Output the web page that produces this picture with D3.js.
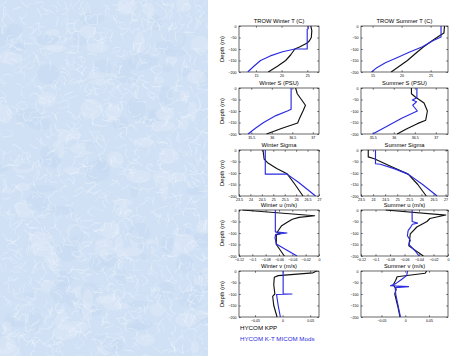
<!DOCTYPE html>
<html><head><meta charset="utf-8">
<script src="https://cdn.jsdelivr.net/npm/d3@7"></script>
<style>html,body{margin:0;padding:0;background:#fff;} svg{display:block;font-family:"Liberation Sans",Arial,sans-serif;}</style>
</head><body>
<script>
// ---------- data ----------
const depthTicks = [0, -50, -100, -150, -200];
const panelTitles = ["TROW Winter T (C)", "TROW Summer T (C)", "Winter S (PSU)", "Summer S (PSU)",
  "Winter Sigma", "Summer Sigma", "Winter u (m/s)", "Summer u (m/s)", "Winter v (m/s)", "Summer v (m/s)"];
const seriesNames = ["HYCOM KPP", "HYCOM K-T MICOM Mods"];

const tTicks = [15, 20, 25];
const sTicks = [35.5, 36, 36.5, 37];
const sigTicks = [23.5, 24, 24.5, 25, 25.5, 26, 26.5, 27];
const uTicks = [-0.12, -0.1, -0.08, -0.06, -0.04, -0.02, 0];
const vTicks = [-0.05, 0, 0.05];

// [value, depth]
const winterT_kpp = [[25.7,0],[25.9,-20],[25.8,-50],[25.4,-65],[24.9,-75],[23.6,-90],[22.6,-100],[21.8,-125],[20.8,-150],[19.2,-175],[17.4,-200]];
const winterT_kt  = [[25.2,0],[25.2,-12],[25.0,-14],[25.0,-100],[22.6,-100],[20.2,-112],[17.8,-130],[15.9,-150],[14.6,-175],[13.4,-200]];
const summerT_kpp = [[27.4,0],[27.3,-30],[26.4,-45],[25.2,-65],[23.8,-90],[22.6,-115],[21.0,-150],[19.6,-175],[18.2,-200]];
const summerT_kt  = [[26.8,0],[26.8,-48],[25.3,-65],[23.6,-90],[21.2,-115],[19.0,-140],[17.2,-160],[15.8,-180],[14.8,-200]];
const winterS_kpp = [[36.58,0],[36.62,-25],[36.72,-50],[36.82,-75],[36.76,-100],[36.68,-130],[36.63,-152],[36.25,-175],[35.87,-200]];
const winterS_kt  = [[36.47,0],[36.47,-92],[36.38,-100],[36.1,-120],[35.8,-150],[35.6,-175],[35.42,-200]];
const summerS_kpp = [[36.42,0],[36.42,-25],[36.52,-40],[36.72,-65],[36.8,-100],[36.76,-140],[36.56,-155],[36.3,-178],[36.08,-200]];
const summerS_kt  = [[36.55,0],[36.55,-42],[36.44,-52],[36.54,-60],[36.45,-75],[36.56,-100],[36.2,-130],[35.85,-165],[35.5,-200]];
const winterSig_kpp = [[24.55,0],[24.6,-40],[24.75,-55],[25.15,-80],[25.6,-103],[25.95,-150],[26.3,-200]];
const winterSig_kt  = [[24.65,0],[24.65,-105],[25.6,-105],[26.1,-140],[26.85,-200]];
const summerSig_kpp = [[23.8,0],[23.8,-30],[24.05,-38],[24.7,-70],[25.45,-105],[25.85,-150],[26.2,-200]];
const summerSig_kt  = [[24.1,0],[24.1,-60],[24.3,-62],[24.9,-82],[25.45,-105],[26.05,-150],[26.65,-200]];
const winterU_kpp = [[-0.115,0],[-0.0065,-25],[-0.03,-32],[-0.04,-40],[-0.047,-52],[-0.056,-68],[-0.06,-85],[-0.063,-98],[-0.058,-102],[-0.064,-108],[-0.064,-150],[-0.052,-200]];
const winterU_kt  = [[-0.0655,0],[-0.0655,-95],[-0.048,-100],[-0.065,-106],[-0.066,-120],[-0.064,-148],[-0.048,-175],[-0.033,-200]];
const summerU_kpp = [[-0.086,0],[-0.003,-22],[-0.025,-37],[-0.029,-50],[-0.043,-74],[-0.052,-104],[-0.054,-156],[-0.034,-200]];
const summerU_kt  = [[-0.0495,0],[-0.0495,-50],[-0.042,-57],[-0.049,-62],[-0.051,-72],[-0.055,-90],[-0.056,-112],[-0.052,-132],[-0.054,-150],[-0.046,-175],[-0.04,-200]];
const winterV_kpp = [[0.062,0],[0.055,-8],[-0.008,-20],[-0.015,-27],[-0.016,-60],[-0.014,-100],[-0.018,-110],[-0.016,-150],[-0.01,-200]];
const winterV_kt  = [[0.001,0],[0.001,-100],[0.017,-100],[-0.011,-102],[-0.008,-150],[-0.004,-200]];
const summerV_kpp = [[0.045,0],[0.042,-10],[-0.017,-25],[-0.02,-40],[-0.025,-60],[-0.019,-80],[-0.022,-100],[-0.016,-150],[-0.011,-200]];
const summerV_kt  = [[0.005,0],[0.003,-20],[-0.01,-40],[-0.02,-55],[-0.031,-64],[0.007,-68],[-0.021,-72],[-0.02,-100],[-0.015,-150],[-0.01,-200]];

// ---------- layout ----------
const W = 475, H = 356;
const colX = [[239, 319], [361, 448]];
const rowTop = [26, 88, 150, 210, 271];
const panelH = 46;
const blackC = "#111", blueC = "#2a2ae0";

const panels = [
  {title:panelTitles[0], dom:[11.7,27.3], ticks:tTicks, fmt:d3.format("d"), a:winterT_kpp, b:winterT_kt},
  {title:panelTitles[1], dom:[13,28], ticks:tTicks, fmt:d3.format("d"), a:summerT_kpp, b:summerT_kt},
  {title:panelTitles[2], dom:[35.2,37.15], ticks:sTicks, fmt:d3.format(""), a:winterS_kpp, b:winterS_kt},
  {title:panelTitles[3], dom:[35.22,37.29], ticks:sTicks, fmt:d3.format(""), a:summerS_kpp, b:summerS_kt},
  {title:panelTitles[4], dom:[23.5,27], ticks:sigTicks, fmt:d3.format(""), a:winterSig_kpp, b:winterSig_kt},
  {title:panelTitles[5], dom:[23.5,27.1], ticks:sigTicks, fmt:d3.format(""), a:summerSig_kpp, b:summerSig_kt},
  {title:panelTitles[6], dom:[-0.12,0], ticks:uTicks, fmt:d3.format(""), a:winterU_kpp, b:winterU_kt},
  {title:panelTitles[7], dom:[-0.12,0], ticks:uTicks, fmt:d3.format(""), a:summerU_kpp, b:summerU_kt},
  {title:panelTitles[8], dom:[-0.079,0.066], ticks:vTicks, fmt:d3.format(""), a:winterV_kpp, b:winterV_kt},
  {title:panelTitles[9], dom:[-0.093,0.09], ticks:vTicks, fmt:d3.format(""), a:summerV_kpp, b:summerV_kt}
];

const svg = d3.select("body").append("svg").attr("width", W).attr("height", H);
svg.append("rect").attr("width", W).attr("height", H).attr("fill", "#fff");

// ---------- decorative texture on the left ----------
const tex = svg.append("g");
tex.append("rect").attr("x",0).attr("y",0).attr("width",208).attr("height",H).attr("fill","#d0e1f5");
let seed = 12345;
function rnd(){ seed = (seed * 1103515245 + 12345) % 2147483648; return seed / 2147483648; }
for (let i = 0; i < 160; i++) {
  tex.append("ellipse").attr("cx", rnd()*208).attr("cy", rnd()*H).attr("rx", 4+rnd()*9).attr("ry", 3+rnd()*8)
    .attr("fill", rnd() < 0.5 ? "#dfeaf8" : "#c6daf2").attr("opacity", 0.5);
}
for (let i = 0; i < 1400; i++) {
  let x = rnd()*212, y = rnd()*H;
  const pts = [[x,y]];
  let ang = rnd()*Math.PI*2;
  for (let k = 0; k < 4; k++) { ang += (rnd()-0.5)*2.2; x += Math.cos(ang)*2.6; y += Math.sin(ang)*2.6; pts.push([x,y]); }
  tex.append("path").attr("d", d3.line().curve(d3.curveBasis)(pts)).attr("fill","none")
    .attr("stroke","#f2f7fd").attr("stroke-width", 0.35+rnd()*0.4).attr("opacity", 0.7);
}
tex.append("rect").attr("x",208).attr("y",0).attr("width",W-208).attr("height",H).attr("fill","#fff");

// ---------- panels ----------
panels.forEach((p, i) => {
  const col = i % 2, row = Math.floor(i / 2);
  const [x0, x1] = colX[col];
  const y0 = rowTop[row], y1 = y0 + panelH;
  const x = d3.scaleLinear().domain(p.dom).range([x0, x1]);
  const y = d3.scaleLinear().domain([-200, 0]).range([y1, y0]);
  const g = svg.append("g");

  g.append("text").attr("x", (x0+x1)/2).attr("y", y0 - 3).attr("text-anchor","middle")
    .attr("font-size", 5.8).attr("fill","#000").text(p.title);

  const ax = g.append("g").attr("transform", `translate(0,${y1})`)
    .call(d3.axisBottom(x).tickValues(p.ticks).tickFormat(p.fmt).tickSizeInner(-1.8).tickSizeOuter(0).tickPadding(2.5));
  const axT = g.append("g").attr("transform", `translate(0,${y0})`)
    .call(d3.axisTop(x).tickValues(p.ticks).tickFormat("").tickSizeInner(-1.8).tickSizeOuter(0));
  const ay = g.append("g").attr("transform", `translate(${x0},0)`)
    .call(d3.axisLeft(y).tickValues(depthTicks).tickFormat(d3.format("d")).tickSizeInner(-1.8).tickSizeOuter(0).tickPadding(2.5));
  const ayR = g.append("g").attr("transform", `translate(${x1},0)`)
    .call(d3.axisRight(y).tickValues(depthTicks).tickFormat("").tickSizeInner(-1.8).tickSizeOuter(0));
  [ax, axT, ay, ayR].forEach(a => {
    a.select(".domain").remove();
    a.selectAll("line").attr("stroke","#000").attr("stroke-width",0.5);
    a.selectAll("text").attr("font-size", 3.6).attr("fill","#000").attr("font-family","Liberation Sans, Arial, sans-serif");
  });
  g.append("rect").attr("x", x0).attr("y", y0).attr("width", x1-x0).attr("height", panelH)
    .attr("fill","none").attr("stroke","#000").attr("stroke-width",0.6);

  if (col === 0) {
    g.append("text").attr("transform", `translate(${x0-15},${(y0+y1)/2}) rotate(-90)`)
      .attr("text-anchor","middle").attr("font-size",5.8).attr("fill","#000").text("Depth (m)");
  }

  const clipId = "clip"+i;
  svg.append("clipPath").attr("id", clipId).append("rect").attr("x",x0).attr("y",y0-0.5).attr("width",x1-x0).attr("height",panelH+1);
  const line = d3.line().x(d => x(d[0])).y(d => y(d[1]));
  const lg = g.append("g").attr("clip-path", `url(#${clipId})`);
  lg.append("path").attr("d", line(p.a)).attr("fill","none").attr("stroke",blackC).attr("stroke-width",1.15).attr("stroke-linejoin","round");
  lg.append("path").attr("d", line(p.b)).attr("fill","none").attr("stroke",blueC).attr("stroke-width",1.15).attr("stroke-linejoin","round");
});

// ---------- legend ----------
svg.append("text").attr("x", 240).attr("y", 330).attr("font-size", 6.2).attr("fill", "#000").text(seriesNames[0]);
svg.append("text").attr("x", 240).attr("y", 341).attr("font-size", 6.2).attr("fill", blueC).text(seriesNames[1]);
</script>
</body></html>
